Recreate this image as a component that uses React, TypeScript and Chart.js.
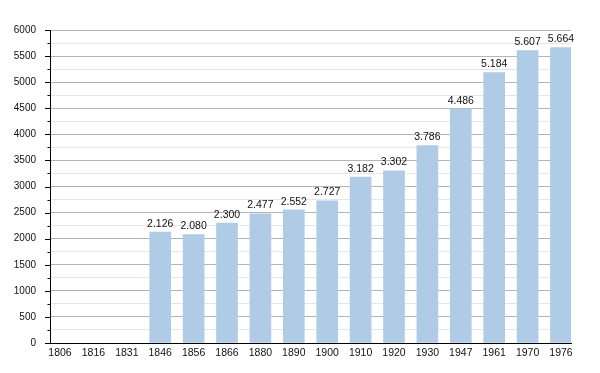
import React, { useEffect, useRef } from "react";
import { Chart, registerables } from "chart.js";

Chart.register(...registerables);

const years = ["1806", "1816", "1831", "1846", "1856", "1866", "1880", "1890", "1900", "1910", "1920", "1930", "1947", "1961", "1970", "1976"];
const population: (number | null)[] = [null, null, null, 2126, 2080, 2300, 2477, 2552, 2727, 3182, 3302, 3786, 4486, 5184, 5607, 5664];
const yMin = 0;
const yMax = 6000;
const yStep = 250;
const yLabelStep = 500;

const FONT = "'Liberation Sans', Arial, Helvetica, sans-serif";

function fmt(v: number): string {
  return String(v).replace(/\B(?=(\d{3})+(?!\d))/g, ".");
}

const valueLabels = {
  id: "valueLabels",
  afterDatasetsDraw(chart: any) {
    const ctx = chart.ctx;
    const meta = chart.getDatasetMeta(0);
    ctx.save();
    ctx.font = `10.5px ${FONT}`;
    ctx.fillStyle = "#111";
    ctx.textAlign = "center";
    ctx.textBaseline = "bottom";
    meta.data.forEach((el: any, i: number) => {
      const v = chart.data.datasets[0].data[i];
      if (v == null) return;
      ctx.fillText(fmt(v), el.x, el.y - 3);
    });
    ctx.restore();
  },
};

const yTickMarks = {
  id: "yTickMarks",
  afterDraw(chart: any) {
    const ctx = chart.ctx;
    const ys = chart.scales.y;
    const left = chart.chartArea.left;
    ctx.save();
    ctx.strokeStyle = "#000";
    ctx.lineWidth = 1;
    for (let v = yMin; v <= yMax; v += yStep) {
      const py = Math.round(ys.getPixelForValue(v)) + 0.5;
      const len = v % yLabelStep === 0 ? 5 : 2.5;
      ctx.beginPath();
      ctx.moveTo(left - len, py);
      ctx.lineTo(left, py);
      ctx.stroke();
    }
    ctx.restore();
  },
};

export default function App() {
  const ref = useRef<HTMLCanvasElement | null>(null);
  useEffect(() => {
    if (!ref.current) return;
    const chart = new Chart(ref.current, {
      type: "bar",
      data: {
        labels: years,
        datasets: [
          {
            data: population as any,
            backgroundColor: "#b0cbe6",
            borderWidth: 0,
            barThickness: 21,
          },
        ],
      },
      options: {
        animation: false,
        responsive: false,
        maintainAspectRatio: false,
        layout: { padding: { top: 30, right: 29, left: 0, bottom: 0 } },
        plugins: { legend: { display: false }, tooltip: { enabled: false } },
        scales: {
          x: {
            type: "category",
            offset: true,
            afterBuildTicks: (scale: any) => {
              scale._startValue = -0.3;
              scale._valueRange = 15.6;
            },
            afterFit: (scale: any) => {
              scale.height = 30;
            },
            grid: { display: false, drawTicks: false },
            border: { display: true, color: "#000", width: 1 },
            ticks: {
              color: "#111",
              font: { family: FONT, size: 10.5 },
              padding: 4,
              maxRotation: 0,
              autoSkip: false,
            },
          },
          y: {
            min: yMin,
            max: yMax,
            afterFit: (scale: any) => {
              scale.width = 50;
            },
            grid: {
              drawTicks: false,
              color: (c: any) => (c.tick && c.tick.value % yLabelStep === 0 ? "#b4b4b4" : "#e6e6e6"),
            },
            border: { display: true, color: "#000", width: 1 },
            ticks: {
              stepSize: yStep,
              autoSkip: false,
              color: "#111",
              font: { family: FONT, size: 10 },
              padding: 14,
              callback: (v: any) => (Number(v) % yLabelStep === 0 ? String(v) : ""),
            },
          },
        },
      },
      plugins: [valueLabels, yTickMarks],
    });
    return () => chart.destroy();
  }, []);
  return (
    <div style={{ position: "fixed", left: 0, top: 0, width: 600, height: 373, background: "#fff" }}>
      <canvas ref={ref} width={600} height={373} style={{ width: 600, height: 373 }} />
    </div>
  );
}
